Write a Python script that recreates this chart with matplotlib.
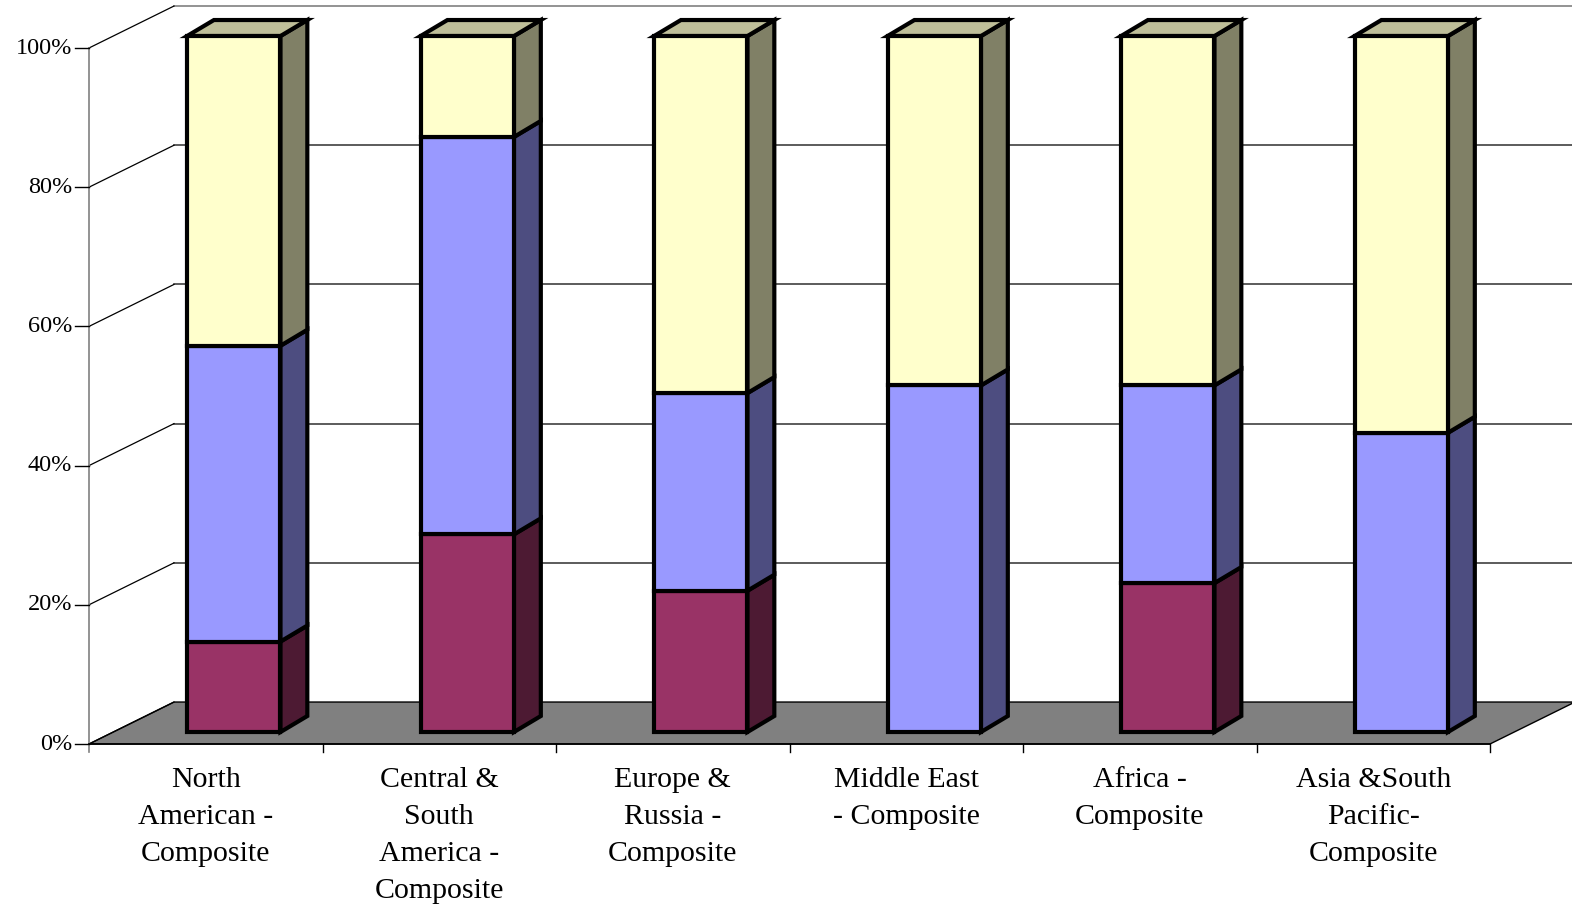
import matplotlib.pyplot as plt
from matplotlib.patches import Polygon

# regional composite shares (percent of total), bottom to top
categories = ['North\nAmerican -\nComposite', 'Central &\nSouth\nAmerica -\nComposite',
              'Europe &\nRussia -\nComposite', 'Middle East\n- Composite',
              'Africa -\nComposite', 'Asia &South\nPacific-\nComposite']
series_low = [13.0, 28.4, 20.3, 0.0, 21.4, 0.0]
series_mid = [42.5, 57.1, 28.4, 49.8, 28.4, 43.0]
series_top = [44.5, 14.5, 51.3, 50.2, 50.2, 57.0]
y_ticks = [0, 20, 40, 60, 80, 100]
y_labels = ['0%', '20%', '40%', '60%', '80%', '100%']

# face / side / top colours per series
face_colors = ['#993366', '#9999FF', '#FFFFCC']
side_colors = ['#4D1A33', '#4D4D80', '#808066']
top_colors = ['#BFBF99', '#BFBF99', '#BFBF99']

# oblique 3d look (x in category units, y in percent)
floor_dx, floor_dy = 0.364, 6.03
bar_x0, bar_w = 0.42, 0.40
bar_base = 1.72
bar_dx, bar_dy = 0.115, 2.3
n = len(categories)

fig = plt.figure(figsize=(15.72, 9.08), dpi=100)
ax = fig.add_axes([0, 0, 1, 1])
ax.set_xlim(-89 / 233.5, (1572 - 89) / 233.5)
ax.set_ylim((744 - 908) / 6.96, 744 / 6.96)
ax.axis('off')

# floor
ax.add_patch(Polygon([(0, 0), (n, 0), (n + floor_dx, floor_dy), (floor_dx, floor_dy)],
                     closed=True, facecolor='#808080', edgecolor='black', lw=1.0, zorder=1))

# side wall diagonals and back wall gridlines
for v in y_ticks:
    ax.plot([0, floor_dx], [v, v + floor_dy], color='black', lw=0.9, zorder=2)
    if v > 0:
        ax.plot([floor_dx, n + floor_dx + 1], [v + floor_dy, v + floor_dy],
                color='#404040' if v < 100 else '#808080', lw=1.2, zorder=0)

# front axes
ax.plot([0, 0], [-1.2, 100], color='#808080', lw=1.2, zorder=2)
ax.plot([0, n], [0, 0], color='black', lw=1.2, zorder=2)
for i in range(1, n + 1):
    ax.plot([i, i], [0, -1.2], color='black', lw=1.0, zorder=2)
for v, lab in zip(y_ticks, y_labels):
    ax.plot([-0.06, 0], [v, v], color='black', lw=1.0, zorder=2)
    ax.text(-0.072, v, lab, ha='right', va='center', fontsize=17.5,
            family='Liberation Serif')

# bars
for i in range(n):
    xl = i + bar_x0
    xr = xl + bar_w
    bottom = bar_base
    vals = [series_low[i], series_mid[i], series_top[i]]
    top_idx = max(k for k in range(3) if vals[k] > 0)
    for k, v in enumerate(vals):
        if v <= 0:
            continue
        y0, y1 = bottom, bottom + v
        ax.add_patch(Polygon([(xl, y0), (xr, y0), (xr, y1), (xl, y1)], closed=True,
                             facecolor=face_colors[k], edgecolor='black', lw=3.0,
                             joinstyle='miter', zorder=5))
        ax.add_patch(Polygon([(xr, y0), (xr + bar_dx, y0 + bar_dy),
                              (xr + bar_dx, y1 + bar_dy), (xr, y1)], closed=True,
                             facecolor=side_colors[k], edgecolor='black', lw=3.0,
                             joinstyle='miter', zorder=4))
        if k == top_idx:
            ax.add_patch(Polygon([(xl, y1), (xr, y1), (xr + bar_dx, y1 + bar_dy),
                                  (xl + bar_dx, y1 + bar_dy)], closed=True,
                                 facecolor=top_colors[k], edgecolor='black', lw=3.0,
                                 joinstyle='miter', zorder=4))
        bottom = y1

# category labels
for i, lab in enumerate(categories):
    ax.text(i + 0.5, -3.3, lab, ha='center', va='top', fontsize=21.5,
            family='Liberation Serif', linespacing=1.55)

fig.savefig('out.png', dpi=100)
